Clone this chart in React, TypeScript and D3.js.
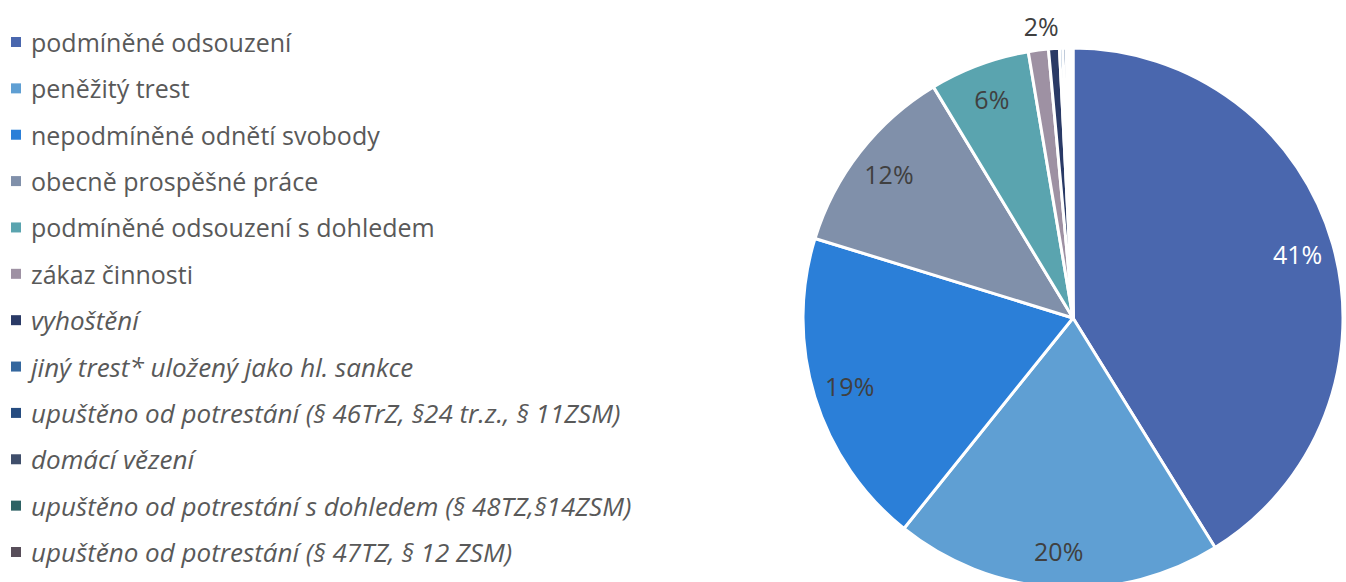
import React from "react";
import * as d3 from "d3";

const categories: string[] = [
  "podmíněné odsouzení",
  "peněžitý trest",
  "nepodmíněné odnětí svobody",
  "obecně prospěšné práce",
  "podmíněné odsouzení  s dohledem",
  "zákaz činnosti",
  "vyhoštění",
  "jiný trest* uložený jako hl. sankce",
  "upuštěno od potrestání (§ 46TrZ, §24 tr.z., § 11ZSM)",
  "domácí vězení",
  "upuštěno od potrestání s dohledem (§ 48TZ,§14ZSM)",
  "upuštěno od potrestání (§ 47TZ, § 12 ZSM)",
];
const values: number[] = [41.2, 19.6, 19.0, 11.6, 6.0, 1.2, 0.65, 0.2, 0.2, 0.15, 0.15, 0.1];
const italicFlags: boolean[] = [false, false, false, false, false, false, true, true, true, true, true, true];
const colors: string[] = [
  "#4a67ae", "#5f9fd3", "#2b7fd8", "#8090aa", "#5aa4af", "#9e91a3",
  "#2a3a66", "#34679e", "#264c80", "#3f4e6b", "#2e6264", "#584e5a",
];
const shownLabels: (string | null)[] = ["41%", "20%", "19%", "12%", "6%", "2%", null, null, null, null, null, null];

const W = 1346, H = 582;
const cx = 1073, cy = 318, R = 270;

export default function App() {
  const pie = d3.pie<number>().sort(null).value((d) => d)(values);
  const arc = d3.arc<d3.PieArcDatum<number>>().innerRadius(0).outerRadius(R);
  const labelArc = d3.arc<d3.PieArcDatum<number>>().innerRadius(R * 0.865).outerRadius(R * 0.865);
  const outArc = d3.arc<d3.PieArcDatum<number>>().innerRadius(R * 1.09).outerRadius(R * 1.09);
  const legendY = d3.scaleLinear().domain([0, categories.length - 1]).range([42, 552]);

  return (
    <svg width={W} height={H} style={{ position: "absolute", left: 0, top: 0 }} fontFamily="'Open Sans', Lato, sans-serif">
      <g>
        {pie.map((p, i) => (
          <path key={i} transform={`translate(${cx},${cy})`} d={arc(p) || ""} fill={colors[i]} stroke="#ffffff" strokeWidth={3} strokeLinejoin="round" />
        ))}
        {pie.map((p, i) => {
          const lbl = shownLabels[i];
          if (!lbl) return null;
          const outside = i === 5;
          const [x, y] = outside ? outArc.centroid(p) : labelArc.centroid(p);
          return (
            <text key={"l" + i} x={cx + x + (outside ? 6 : 0)} y={cy + y} textAnchor="middle" dominantBaseline="central" fontSize={25}
              fill={i === 0 ? "#ffffff" : "#404040"}>{lbl}</text>
          );
        })}
      </g>
      <g>
        {categories.map((c, i) => (
          <g key={"g" + i} transform={`translate(0,${legendY(i)})`}>
            <rect x={11} y={-5} width={10} height={10} fill={colors[i]} />
            <text x={31} y={0} dominantBaseline="central" fontSize={italicFlags[i] ? 26 : 25} fill="#595959" fontStyle={italicFlags[i] ? "italic" : "normal"}>{c}</text>
          </g>
        ))}
      </g>
    </svg>
  );
}
